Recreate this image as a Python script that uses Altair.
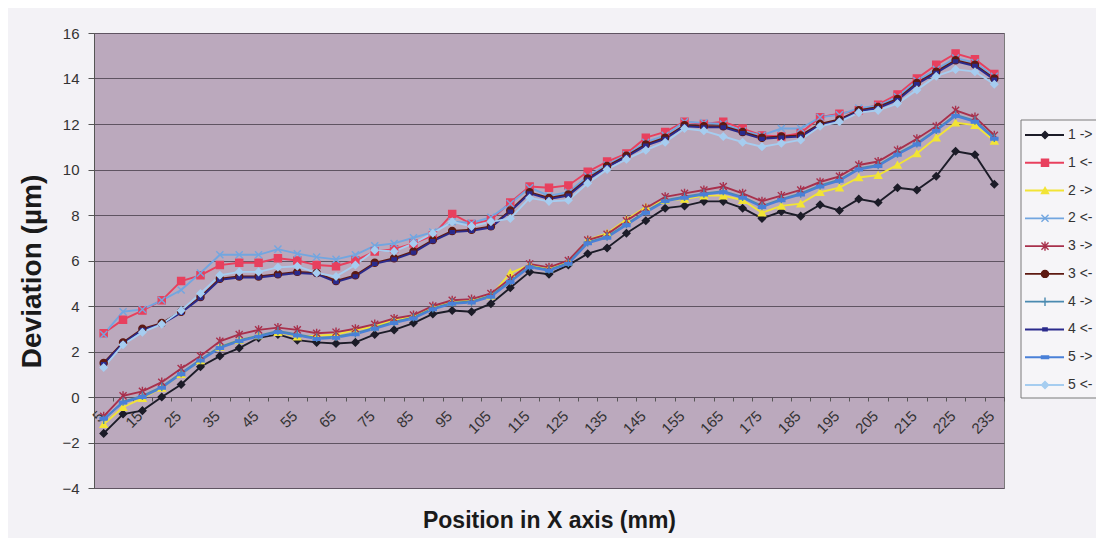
import altair as alt
import pandas as pd

positions = [5, 10, 15, 20, 25, 30, 35, 40, 45, 50, 55, 60, 65, 70, 75, 80, 85, 90, 95, 100,
             105, 110, 115, 120, 125, 130, 135, 140, 145, 150, 155, 160, 165, 170, 175, 180,
             185, 190, 195, 200, 205, 210, 215, 220, 225, 230, 235]

series_names = ["1 ->", "1 <-", "2 ->", "2 <-", "3 ->", "3 <-", "4 ->", "4 <-", "5 ->", "5 <-"]

s1_fwd = [-1.6, -0.75, -0.6, 0.0, 0.55, 1.33, 1.8, 2.15, 2.6, 2.75, 2.5, 2.4, 2.35, 2.4, 2.75, 2.95,
          3.25, 3.65, 3.8, 3.75, 4.1, 4.8, 5.5, 5.4, 5.8, 6.3, 6.55, 7.2, 7.75, 8.3, 8.4, 8.6, 8.6,
          8.3, 7.85, 8.15, 7.95, 8.45, 8.2, 8.7, 8.55, 9.2, 9.1, 9.7, 10.8, 10.65, 9.35]
s1_bwd = [2.8, 3.4, 3.8, 4.25, 5.1, 5.35, 5.8, 5.9, 5.9, 6.1, 6.0, 5.8, 5.75, 6.0, 6.4, 6.5, 6.75,
          7.1, 8.05, 7.6, 7.8, 8.55, 9.25, 9.2, 9.3, 9.9, 10.35, 10.7, 11.4, 11.65, 12.1, 12.0, 12.1,
          11.8, 11.5, 11.45, 11.6, 12.3, 12.45, 12.6, 12.85, 13.3, 14.0, 14.6, 15.1, 14.85, 14.2]
s2_fwd = [-1.2, -0.45, -0.05, 0.4, 1.0, 1.6, 2.2, 2.5, 2.7, 2.85, 2.65, 2.7, 2.75, 2.95, 3.1, 3.4,
          3.55, 3.95, 4.2, 4.25, 4.45, 5.45, 5.8, 5.65, 5.95, 6.9, 7.2, 7.8, 8.35, 8.65, 8.7, 8.85,
          8.85, 8.65, 8.1, 8.4, 8.5, 9.0, 9.2, 9.65, 9.75, 10.2, 10.7, 11.4, 12.05, 11.95, 11.25]
s2_bwd = [2.75, 3.75, 3.85, 4.25, 4.7, 5.45, 6.25, 6.25, 6.25, 6.5, 6.3, 6.15, 6.05, 6.25, 6.65,
          6.75, 7.0, 7.25, 7.7, 7.65, 7.9, 8.5, 9.2, 8.85, 9.0, 9.7, 10.2, 10.65, 11.2, 11.5, 12.1,
          12.05, 12.0, 11.7, 11.5, 11.8, 11.8, 12.3, 12.4, 12.7, 12.8, 13.2, 13.9, 14.4, 14.9, 14.7, 14.1]
s3_fwd = [-0.85, 0.05, 0.25, 0.65, 1.25, 1.8, 2.45, 2.75, 2.95, 3.05, 2.95, 2.8, 2.85, 3.0, 3.2,
          3.45, 3.6, 4.0, 4.25, 4.3, 4.55, 5.2, 5.85, 5.7, 6.0, 6.9, 7.15, 7.75, 8.3, 8.8, 8.95, 9.1,
          9.25, 8.95, 8.6, 8.85, 9.1, 9.45, 9.7, 10.2, 10.35, 10.85, 11.35, 11.9, 12.6, 12.3, 11.5]
s3_bwd = [1.5, 2.4, 3.0, 3.25, 3.75, 4.4, 5.2, 5.3, 5.3, 5.4, 5.5, 5.45, 5.1, 5.35, 5.9, 6.1, 6.4,
          6.9, 7.3, 7.35, 7.5, 8.2, 9.0, 8.75, 8.9, 9.6, 10.15, 10.6, 11.1, 11.4, 11.95, 11.9, 11.9,
          11.65, 11.4, 11.45, 11.5, 12.0, 12.2, 12.6, 12.75, 13.1, 13.8, 14.3, 14.8, 14.6, 14.0]
s4_fwd = [-1.0, -0.2, 0.05, 0.45, 1.05, 1.65, 2.2, 2.5, 2.7, 2.9, 2.75, 2.6, 2.65, 2.8, 3.05, 3.3,
          3.5, 3.9, 4.15, 4.2, 4.45, 5.1, 5.75, 5.6, 5.9, 6.8, 7.05, 7.6, 8.15, 8.65, 8.8, 8.95, 9.05,
          8.8, 8.4, 8.7, 8.95, 9.3, 9.55, 10.05, 10.2, 10.7, 11.15, 11.75, 12.4, 12.15, 11.4]
s4_bwd = [1.45, 2.35, 2.95, 3.2, 3.7, 4.35, 5.15, 5.25, 5.25, 5.35, 5.45, 5.4, 5.05, 5.3, 5.85,
          6.05, 6.35, 6.85, 7.25, 7.3, 7.45, 8.15, 8.95, 8.7, 8.85, 9.55, 10.1, 10.55, 11.05, 11.35,
          11.9, 11.85, 11.85, 11.6, 11.35, 11.4, 11.45, 11.95, 12.15, 12.55, 12.7, 13.05, 13.75,
          14.25, 14.75, 14.55, 13.95]
s5_fwd = [-0.95, -0.25, 0.0, 0.4, 1.0, 1.6, 2.15, 2.45, 2.65, 2.85, 2.7, 2.55, 2.6, 2.75, 3.0, 3.25,
          3.45, 3.85, 4.1, 4.15, 4.4, 5.05, 5.7, 5.55, 5.85, 6.75, 7.0, 7.55, 8.1, 8.6, 8.75, 8.9, 9.0,
          8.75, 8.35, 8.65, 8.9, 9.25, 9.5, 10.0, 10.15, 10.65, 11.1, 11.7, 12.35, 12.1, 11.35]
s5_bwd = [1.3, 2.3, 2.85, 3.2, 3.8, 4.55, 5.35, 5.5, 5.5, 5.7, 5.75, 5.45, 5.3, 5.8, 6.45, 6.4, 6.75,
          7.2, 7.7, 7.5, 7.7, 7.85, 8.75, 8.6, 8.65, 9.4, 10.0, 10.45, 10.85, 11.2, 11.8, 11.7, 11.45,
          11.2, 11.0, 11.15, 11.3, 11.9, 12.1, 12.5, 12.6, 12.9, 13.5, 14.1, 14.4, 14.3, 13.75]

all_series = [s1_fwd, s1_bwd, s2_fwd, s2_bwd, s3_fwd, s3_bwd, s4_fwd, s4_bwd, s5_fwd, s5_bwd]

colors = ["#1c1c28", "#e8405e", "#f2e436", "#72a6e0", "#a8304c",
          "#5e1a12", "#4a8ab0", "#2a2a8c", "#4a80d8", "#a6cdf0"]
shapes = ["diamond", "square", "triangle-up",
          "M-1,-1L1,1M-1,1L1,-1",
          "M-1,-1L1,1M-1,1L1,-1M0,-1.3L0,1.3",
          "circle",
          "M0,-1.2L0,1.2M-1,0L1,0",
          "M-0.6,-0.4L0.6,-0.4L0.6,0.4L-0.6,0.4Z",
          "M-1,-0.35L1,-0.35L1,0.35L-1,0.35Z",
          "diamond"]

rows = []
for name, vals in zip(series_names, all_series):
    for p, v in zip(positions, vals):
        rows.append({"pos": p, "series": name, "value": v})
df = pd.DataFrame(rows)
legend_df = pd.DataFrame({"series": series_names})
box_df = pd.DataFrame({"k": [0]})

W, H = 910, 455
FONT = "Liberation Sans"

color_scale = alt.Scale(domain=series_names, range=colors)
shape_scale = alt.Scale(domain=series_names, range=shapes)

x_enc = alt.X(
    "pos:O",
    scale=alt.Scale(type="band", domain=positions, paddingInner=0, paddingOuter=0),
    bandPosition=0.5,
    axis=alt.Axis(
        title="Position in X axis (mm)",
        labelExpr="datum.value % 10 == 5 ? datum.label : ''",
        labelAngle=-45, labelAlign="right", labelBaseline="middle",
        labelPadding=12, labelOffset=-3, labelFontSize=15, labelColor="#333333",
        labelOverlap=False, tickBand="extent", tickSize=4, tickColor="#555555",
        domainColor="#5a4d5c", offset=-91, titleY=123, titleBaseline="middle",
        titleFontSize=23, titleFontWeight="bold", titleColor="#1a1a1a",
    ),
)
y_enc = alt.Y(
    "value:Q",
    scale=alt.Scale(domain=[-4, 16], nice=False, zero=False),
    axis=alt.Axis(
        values=[-4, -2, 0, 2, 4, 6, 8, 10, 12, 14, 16],
        grid=True, gridColor="#5f5462", gridWidth=1,
        tickSize=6, tickColor="#555555", labelPadding=9, labelFontSize=15,
        labelColor="#333333", domainColor="#555555",
        title="Deviation (µm)", titleFontSize=28, titleFontWeight="bold",
        titleColor="#1a1a1a", titleX=-62, titleY=238, titleBaseline="middle",
    ),
)

lines = alt.Chart(df).mark_line(strokeWidth=1.9).encode(
    x=x_enc, y=y_enc,
    color=alt.Color("series:N", scale=color_scale, legend=None),
)
points = alt.Chart(df).mark_point(filled=True, size=50, strokeWidth=1.4, opacity=1).encode(
    x=x_enc, y=y_enc,
    color=alt.Color("series:N", scale=color_scale, legend=None),
    stroke=alt.Stroke("series:N", scale=color_scale, legend=None),
    shape=alt.Shape("series:N", scale=shape_scale, legend=None),
)
main = alt.layer(lines, points)

ly = alt.Y("series:N", scale=alt.Scale(type="point", domain=series_names, range=[102, 352], padding=0), axis=None)

box = alt.Chart(box_df).mark_rect(fill="#f6f5f8", stroke="#7a7a7a", strokeWidth=1).encode(
    x=alt.value(927), x2=alt.value(1040), y=alt.value(87), y2=alt.value(365)
)
leg_lines = alt.Chart(legend_df).mark_rule(strokeWidth=1.9).encode(
    x=alt.value(931), x2=alt.value(970), y=ly,
    color=alt.Color("series:N", scale=color_scale, legend=None),
)
leg_points = alt.Chart(legend_df).mark_point(filled=True, size=50, strokeWidth=1.4, opacity=1).encode(
    x=alt.value(951), y=ly,
    color=alt.Color("series:N", scale=color_scale, legend=None),
    stroke=alt.Stroke("series:N", scale=color_scale, legend=None),
    shape=alt.Shape("series:N", scale=shape_scale, legend=None),
)
leg_text = alt.Chart(legend_df).mark_text(align="left", baseline="middle", fontSize=14,
                                          color="#333333", font=FONT).encode(
    x=alt.value(974), y=ly, text="series:N"
)
legend = alt.layer(box, leg_lines, leg_points, leg_text)

chart = alt.layer(main, legend).resolve_scale(y="independent").properties(
    width=W, height=H,
    padding={"left": 86, "top": 25, "right": 92, "bottom": 50},
    autosize=alt.AutoSizeParams(type="none"),
    background="#f3f2f6",
).configure_view(
    fill="#bba9bd", stroke="#7a7a7a", strokeWidth=1
).configure_axis(
    labelFont=FONT, titleFont=FONT
)

chart.save("out.html", embed_options={"renderer": "svg", "actions": False})
